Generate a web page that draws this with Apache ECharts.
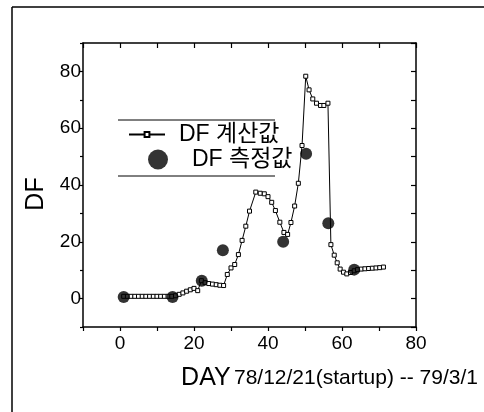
<!DOCTYPE html>
<html><head><meta charset="utf-8">
<script src="https://cdn.jsdelivr.net/npm/echarts@6/dist/echarts.min.js"></script>
<style>html,body{margin:0;padding:0;background:#fff}#c{width:484px;height:412px}</style>
</head><body><div id="c"></div>
<script>
var calcDays = [1,2,3,4,5,6,7,8,9,10,11,12,13,14,15,16,17,18,19,20,21,22,23,24,25,26,27,28,29,30,31,32,33,34,35,36.7,37.9,39,40,41,42,43.2,44.3,45.3,46.2,47.2,48.2,49.2,50.2,51.1,52.1,53.1,54.2,55.1,56.2,57,57.9,58.7,59.5,60.4,61.3,62.3,63.3,64.2,65.2,66.2,67.2,68.2,69.2,70.2,71.2];
var calcDF = [0.8,0.8,0.8,0.8,0.8,0.8,0.8,0.8,0.8,0.8,0.8,0.8,0.8,0.8,1.0,1.5,2.0,2.6,3.1,3.6,2.8,6.3,5.6,5.3,5.1,4.9,4.7,4.6,8.5,10.8,12,15.5,20.5,25.5,30.8,37.5,37.1,36.9,35.9,33.9,31,26.9,23.3,22.6,26.8,32.6,40.6,53.9,78.3,73.5,70.3,68.8,68,68,68.8,19,15.3,12.6,10.4,9.3,8.7,9.2,9.8,10.2,10.4,10.5,10.6,10.7,10.8,10.9,11.1];
var measDays = [1,14.2,22.1,27.8,44.1,50.3,56.3,63.3];
var measDF = [0.6,0.6,6.3,17,20,51,26.5,10.2];
var xTicks = [0,20,40,60,80];
var yTicks = [0,20,40,60,80];
var calcName = 'DF 계산값';
var measName = 'DF 측정값';

var FONT = '"Liberation Sans", Arial, "Noto Sans CJK KR", sans-serif';
function pairs(a,b){return a.map(function(v,i){return [v,b[i]];});}
var chart = echarts.init(document.getElementById('c'));
var tickFmt = function(list){return function(v){return list.indexOf(v)>=0 ? String(v) : '';};};
chart.setOption({
  animation:false,
  backgroundColor:'#fff',
  grid:{left:83,right:68,top:43,bottom:85,containLabel:false},
  xAxis:[{
    type:'value',min:-10,max:80,interval:10,position:'bottom',
    axisLine:{onZero:false,lineStyle:{color:'#000',width:1.5}},
    axisTick:{inside:false,length:4,lineStyle:{color:'#000',width:1.2}},
    axisLabel:{formatter:tickFmt(xTicks),color:'#000',fontSize:19,fontFamily:FONT,margin:7},
    splitLine:{show:false},
    name:'{a|DAY} {b|78/12/21(startup) -- 79/3/1}',
    nameLocation:'middle',nameGap:39,
    nameTextStyle:{padding:[0,0,0,160],rich:{a:{fontSize:25,fontFamily:FONT,color:'#000'},b:{fontSize:21,fontFamily:FONT,color:'#000'}}}
  },{
    type:'value',min:-10,max:80,interval:10,position:'top',
    axisLine:{onZero:false,lineStyle:{color:'#000',width:1.5}},
    axisTick:{inside:true,length:5,lineStyle:{color:'#000',width:1.2}},
    axisLabel:{show:false},splitLine:{show:false}
  }],
  yAxis:[{
    type:'value',min:-10,max:90,interval:10,position:'left',
    axisLine:{onZero:false,lineStyle:{color:'#000',width:1.5}},
    axisTick:{inside:false,length:3,lineStyle:{color:'#000',width:1.2}},
    axisLabel:{formatter:tickFmt(yTicks),color:'#000',fontSize:19,fontFamily:FONT,margin:2},
    splitLine:{show:false},
    name:'DF',nameLocation:'middle',nameGap:34,nameRotate:90,
    nameTextStyle:{fontSize:25,fontFamily:FONT,color:'#000',padding:[0,18,0,0]}
  },{
    type:'value',min:-10,max:90,interval:10,position:'right',
    axisLine:{onZero:false,lineStyle:{color:'#000',width:1.5}},
    axisTick:{inside:true,length:5,lineStyle:{color:'#000',width:1.2}},
    axisLabel:{show:false},splitLine:{show:false}
  }],
  legend:[{
    data:[calcName],orient:'vertical',left:123,top:118,
    itemWidth:36,itemHeight:6,
    textStyle:{fontSize:23,fontFamily:FONT,color:'#000',padding:[0,0,0,9]}
  },{
    data:[{name:measName,icon:'circle'}],orient:'vertical',left:143,top:143,
    itemWidth:20,itemHeight:20,
    textStyle:{fontSize:23,fontFamily:FONT,color:'#000',padding:[0,0,0,19]}
  }],
  graphic:[
    {type:'line',shape:{x1:12,y1:7,x2:484,y2:7},style:{stroke:'#000',lineWidth:1.5}},
    {type:'line',shape:{x1:12,y1:7,x2:12,y2:412},style:{stroke:'#000',lineWidth:1.5}},
    {type:'line',shape:{x1:118,y1:120,x2:275,y2:120},style:{stroke:'#000',lineWidth:1}},
    {type:'line',shape:{x1:118,y1:176,x2:275,y2:176},style:{stroke:'#000',lineWidth:1}}
  ],
  series:[{
    name:calcName,type:'line',data:pairs(calcDays,calcDF),
    symbol:'rect',symbolSize:4,showAllSymbol:true,
    lineStyle:{color:'#000',width:1},
    itemStyle:{color:'#fff',borderColor:'#000',borderWidth:1},
    z:2
  },{
    name:measName,type:'scatter',data:pairs(measDays,measDF),
    symbol:'circle',symbolSize:12,
    itemStyle:{color:'#000'},z:3
  }]
});
</script></body></html>
